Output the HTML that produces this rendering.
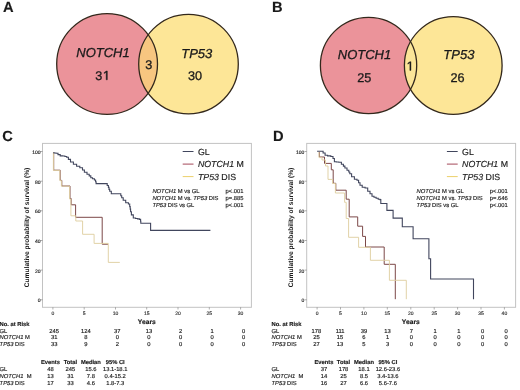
<!DOCTYPE html>
<html><head><meta charset="utf-8"><style>
html,body{margin:0;padding:0;background:#fff;width:520px;height:390px;overflow:hidden}
svg{display:block;will-change:transform;filter:blur(0.35px)}
text{font-family:"Liberation Sans", sans-serif;text-rendering:geometricPrecision}
</style></head><body>
<svg width="520" height="390" viewBox="0 0 520 390" font-family='"Liberation Sans", sans-serif'>
<rect width="520" height="390" fill="#fff"/>
<text x="2.9" y="11.6" font-size="14.7" font-weight="bold" font-style="normal" text-anchor="start" fill="#1a1a1a" stroke="#1a1a1a" stroke-width="0.15" >A</text>
<text x="271.9" y="12.2" font-size="14.7" font-weight="bold" font-style="normal" text-anchor="start" fill="#1a1a1a" stroke="#1a1a1a" stroke-width="0.15" >B</text>
<text x="2.3" y="140.6" font-size="14.7" font-weight="bold" font-style="normal" text-anchor="start" fill="#1a1a1a" stroke="#1a1a1a" stroke-width="0.15" >C</text>
<text x="273.1" y="140.5" font-size="14.7" font-weight="bold" font-style="normal" text-anchor="start" fill="#1a1a1a" stroke="#1a1a1a" stroke-width="0.15" >D</text>
<defs><clipPath id="ca"><circle cx="107.1" cy="64.0" r="50.4"/></clipPath></defs>
<circle cx="107.1" cy="64.0" r="50.4" fill="#eb939a"/>
<circle cx="188.5" cy="64.1" r="49.8" fill="#fde697"/>
<circle cx="188.5" cy="64.1" r="49.8" fill="#f7c680" clip-path="url(#ca)"/>
<circle cx="107.1" cy="64.0" r="50.4" fill="none" stroke="#33281c" stroke-width="1.3"/>
<circle cx="188.5" cy="64.1" r="49.8" fill="none" stroke="#33281c" stroke-width="1.3"/>
<text x="103.0" y="57.2" font-size="13.0" font-weight="normal" font-style="normal" text-anchor="middle" fill="#1a1a1a" stroke="#1a1a1a" stroke-width="0.3" ><tspan font-style="italic">NOTCH1</tspan></text>
<text x="95.3388" y="79.8" font-size="12.7" font-weight="normal" font-style="normal" text-anchor="start" fill="#1a1a1a" stroke="#1a1a1a" stroke-width="0.3" >3</text>
<path d="M106.19 79.80 L106.19 72.13 L104.22 73.54 L104.22 72.48 L106.29 71.06 L107.32 71.06 L107.32 79.80 Z" fill="#1a1a1a" stroke="#1a1a1a" stroke-width="0.45" stroke-linejoin="miter"/>
<text x="148.7" y="69.2" font-size="12.7" font-weight="normal" font-style="normal" text-anchor="middle" fill="#1a1a1a" stroke="#1a1a1a" stroke-width="0.3" >3</text>
<text x="196.8" y="57.6" font-size="13.0" font-weight="normal" font-style="normal" text-anchor="middle" fill="#1a1a1a" stroke="#1a1a1a" stroke-width="0.3" ><tspan font-style="italic">TP53</tspan></text>
<text x="195.0" y="79.6" font-size="12.7" font-weight="normal" font-style="normal" text-anchor="middle" fill="#1a1a1a" stroke="#1a1a1a" stroke-width="0.3" >30</text>
<defs><clipPath id="cb"><circle cx="368.55" cy="65.45" r="48.15"/></clipPath></defs>
<circle cx="368.55" cy="65.45" r="48.15" fill="#eb939a"/>
<circle cx="453.25" cy="65.45" r="48.85" fill="#fde697"/>
<circle cx="453.25" cy="65.45" r="48.85" fill="#fbe598" clip-path="url(#cb)"/>
<circle cx="368.55" cy="65.45" r="48.15" fill="none" stroke="#33281c" stroke-width="1.3"/>
<circle cx="453.25" cy="65.45" r="48.85" fill="none" stroke="#33281c" stroke-width="1.3"/>
<text x="364.5" y="59.2" font-size="13.0" font-weight="normal" font-style="normal" text-anchor="middle" fill="#1a1a1a" stroke="#1a1a1a" stroke-width="0.3" ><tspan font-style="italic">NOTCH1</tspan></text>
<text x="364.3" y="81.8" font-size="12.7" font-weight="normal" font-style="normal" text-anchor="middle" fill="#1a1a1a" stroke="#1a1a1a" stroke-width="0.3" >25</text>
<path d="M409.84 70.40 L409.84 62.73 L407.87 64.14 L407.87 63.08 L409.94 61.66 L410.97 61.66 L410.97 70.40 Z" fill="#1a1a1a" stroke="#1a1a1a" stroke-width="0.4" stroke-linejoin="miter"/>
<text x="458.9" y="59.3" font-size="13.0" font-weight="normal" font-style="normal" text-anchor="middle" fill="#1a1a1a" stroke="#1a1a1a" stroke-width="0.3" ><tspan font-style="italic">TP53</tspan></text>
<text x="457.5" y="81.5" font-size="12.7" font-weight="normal" font-style="normal" text-anchor="middle" fill="#1a1a1a" stroke="#1a1a1a" stroke-width="0.3" >26</text>
<rect x="42.5" y="143.4" width="208.9" height="163.9" fill="none" stroke="#c2c2c2" stroke-width="1"/>
<line x1="40.3" y1="151.5" x2="42.5" y2="151.5" stroke="#777" stroke-width="0.6"/>
<text x="40.6" y="154.1" font-size="5.0" font-weight="normal" font-style="normal" text-anchor="end" fill="#222" stroke="#222" stroke-width="0.15" >100</text>
<line x1="40.3" y1="181.2" x2="42.5" y2="181.2" stroke="#777" stroke-width="0.6"/>
<text x="40.6" y="183.8" font-size="5.0" font-weight="normal" font-style="normal" text-anchor="end" fill="#222" stroke="#222" stroke-width="0.15" >80</text>
<line x1="40.3" y1="210.8" x2="42.5" y2="210.8" stroke="#777" stroke-width="0.6"/>
<text x="40.6" y="213.4" font-size="5.0" font-weight="normal" font-style="normal" text-anchor="end" fill="#222" stroke="#222" stroke-width="0.15" >60</text>
<line x1="40.3" y1="240.5" x2="42.5" y2="240.5" stroke="#777" stroke-width="0.6"/>
<text x="40.6" y="243.1" font-size="5.0" font-weight="normal" font-style="normal" text-anchor="end" fill="#222" stroke="#222" stroke-width="0.15" >40</text>
<line x1="40.3" y1="270.1" x2="42.5" y2="270.1" stroke="#777" stroke-width="0.6"/>
<text x="40.6" y="272.7" font-size="5.0" font-weight="normal" font-style="normal" text-anchor="end" fill="#222" stroke="#222" stroke-width="0.15" >20</text>
<line x1="40.3" y1="299.8" x2="42.5" y2="299.8" stroke="#777" stroke-width="0.6"/>
<text x="40.6" y="302.4" font-size="5.0" font-weight="normal" font-style="normal" text-anchor="end" fill="#222" stroke="#222" stroke-width="0.15" >0</text>
<line x1="52.9" y1="307.3" x2="52.9" y2="309.5" stroke="#777" stroke-width="0.6"/>
<text x="52.9" y="314.6" font-size="5.0" font-weight="normal" font-style="normal" text-anchor="middle" fill="#333" stroke="#333" stroke-width="0.15" >0</text>
<line x1="84.2" y1="307.3" x2="84.2" y2="309.5" stroke="#777" stroke-width="0.6"/>
<text x="84.2" y="314.6" font-size="5.0" font-weight="normal" font-style="normal" text-anchor="middle" fill="#333" stroke="#333" stroke-width="0.15" >5</text>
<line x1="115.5" y1="307.3" x2="115.5" y2="309.5" stroke="#777" stroke-width="0.6"/>
<text x="115.5" y="314.6" font-size="5.0" font-weight="normal" font-style="normal" text-anchor="middle" fill="#333" stroke="#333" stroke-width="0.15" >10</text>
<line x1="146.7" y1="307.3" x2="146.7" y2="309.5" stroke="#777" stroke-width="0.6"/>
<text x="146.7" y="314.6" font-size="5.0" font-weight="normal" font-style="normal" text-anchor="middle" fill="#333" stroke="#333" stroke-width="0.15" >15</text>
<line x1="178.0" y1="307.3" x2="178.0" y2="309.5" stroke="#777" stroke-width="0.6"/>
<text x="178.0" y="314.6" font-size="5.0" font-weight="normal" font-style="normal" text-anchor="middle" fill="#333" stroke="#333" stroke-width="0.15" >20</text>
<line x1="209.3" y1="307.3" x2="209.3" y2="309.5" stroke="#777" stroke-width="0.6"/>
<text x="209.3" y="314.6" font-size="5.0" font-weight="normal" font-style="normal" text-anchor="middle" fill="#333" stroke="#333" stroke-width="0.15" >25</text>
<line x1="240.6" y1="307.3" x2="240.6" y2="309.5" stroke="#777" stroke-width="0.6"/>
<text x="240.6" y="314.6" font-size="5.0" font-weight="normal" font-style="normal" text-anchor="middle" fill="#333" stroke="#333" stroke-width="0.15" >30</text>
<text x="146.8" y="323.6" font-size="6.7" font-weight="bold" font-style="normal" text-anchor="middle" fill="#1a1a1a" stroke="#1a1a1a" stroke-width="0.15" >Years</text>
<text transform="translate(28.9,227.5) rotate(-90)" x="0" y="0" font-size="6.7" font-weight="bold" text-anchor="middle" fill="#1a1a1a">Cumulative probability of survival (%)</text>
<path d="M53.7 152.5 L53.7 170.2 L60.2 170.2 L60.2 180.4 L61.8 180.4 L61.8 186.0 L70.0 186.0 L70.0 198.5 L71.2 198.5 L71.2 204.8 L75.6 204.8 L75.6 217.3 L102.2 217.3 L102.2 244.2 L108.0 244.2" fill="none" stroke="#7c4848" stroke-width="1.0"/>
<path d="M53.4 152.5 L53.4 170.4 L59.9 170.4 L59.9 180.6 L61.4 180.6 L61.4 186.2 L69.6 186.2 L69.6 199.0 L70.9 199.0 L70.9 215.8 L75.8 215.8 L75.8 221.0 L82.6 221.0 L82.6 234.3 L94.1 234.3 L94.1 243.4 L108.3 243.4 L108.3 262.4 L119.8 262.4" fill="none" stroke="#dfd0a2" stroke-width="0.95"/>
<path d="M53.2 152.7 H54.2 V153.0 H56.0 V153.3 H57.0 H58.0 V154.6 H59.0 H60.2 V155.9 H61.5 H62.8 V156.0 H64.1 H64.9 V156.5 H65.7 H66.7 V157.2 H67.6 H68.4 V159.4 H69.2 H70.5 V162.0 H71.8 H73.4 V164.3 H75.0 H76.6 V166.2 H78.2 H79.8 V167.7 H81.5 H82.5 V170.0 H84.4 V172.3 H85.4 H87.0 V174.2 H88.5 H89.2 V175.9 H90.8 V177.7 H91.5 H92.5 V178.8 H94.4 V180.0 H95.4 H95.6 V181.8 H96.1 V183.6 H96.3 L106.2 183.6 H107.2 V185.5 H108.1 H108.4 V187.4 H109.0 V189.4 H109.7 V191.3 H110.0 H111.3 V193.8 H112.6 L120.3 193.8 H120.8 V195.8 H121.7 V197.7 H122.2 H123.2 V200.3 H124.1 H125.7 V202.8 H127.3 H128.4 V204.0 H129.5 H129.7 V206.6 H130.2 V209.1 H130.6 V211.7 H130.8 H131.4 V214.9 H132.0 H133.3 V218.0 H134.6 H135.6 V218.5 H137.5 V218.9 H139.4 V219.4 H140.4 H140.6 V221.3 H140.8 V223.2 H141.0 L150.6 223.2 L150.6 230.4 L210.4 230.4" fill="none" stroke="#41465d" stroke-width="1.1"/>
<line x1="182.7" y1="151.5" x2="193.5" y2="151.5" stroke="#41465d" stroke-width="1"/>
<text x="197.9" y="154.6" font-size="8.8" font-weight="normal" font-style="normal" text-anchor="start" fill="#1a1a1a" stroke="#1a1a1a" stroke-width="0.15" >GL</text>
<line x1="182.7" y1="164.1" x2="193.5" y2="164.1" stroke="#a4485a" stroke-width="1"/>
<text x="197.9" y="167.2" font-size="8.8" font-weight="normal" font-style="normal" text-anchor="start" fill="#1a1a1a" stroke="#1a1a1a" stroke-width="0.15" ><tspan font-style="italic">NOTCH1</tspan> M</text>
<line x1="182.7" y1="176.6" x2="193.5" y2="176.6" stroke="#ecd06a" stroke-width="1"/>
<text x="197.9" y="179.7" font-size="8.8" font-weight="normal" font-style="normal" text-anchor="start" fill="#1a1a1a" stroke="#1a1a1a" stroke-width="0.15" ><tspan font-style="italic">TP53</tspan> DIS</text>
<text x="152.4" y="192.6" font-size="5.8" font-weight="normal" font-style="normal" text-anchor="start" fill="#1a1a1a" stroke="#1a1a1a" stroke-width="0.15" ><tspan font-style="italic">NOTCH1</tspan> M vs GL</text>
<text x="225.6" y="192.6" font-size="5.8" font-weight="normal" font-style="normal" text-anchor="start" fill="#1a1a1a" stroke="#1a1a1a" stroke-width="0.15" >p&lt;.001</text>
<text x="152.4" y="199.8" font-size="5.8" font-weight="normal" font-style="normal" text-anchor="start" fill="#1a1a1a" stroke="#1a1a1a" stroke-width="0.15" ><tspan font-style="italic">NOTCH1</tspan> M vs. <tspan font-style="italic">TP53</tspan> DIS</text>
<text x="225.6" y="199.8" font-size="5.8" font-weight="normal" font-style="normal" text-anchor="start" fill="#1a1a1a" stroke="#1a1a1a" stroke-width="0.15" >p=.885</text>
<text x="152.4" y="206.9" font-size="5.8" font-weight="normal" font-style="normal" text-anchor="start" fill="#1a1a1a" stroke="#1a1a1a" stroke-width="0.15" ><tspan font-style="italic">TP53</tspan> DIS vs GL</text>
<text x="225.6" y="206.9" font-size="5.8" font-weight="normal" font-style="normal" text-anchor="start" fill="#1a1a1a" stroke="#1a1a1a" stroke-width="0.15" >p&lt;.001</text>
<text x="-0.4" y="325.6" font-size="5.8" font-weight="bold" font-style="normal" text-anchor="start" fill="#1a1a1a" stroke="#1a1a1a" stroke-width="0.15" >No. at Risk</text>
<text x="-0.4" y="332.5" font-size="5.8" font-weight="normal" font-style="normal" text-anchor="start" fill="#1a1a1a" stroke="#1a1a1a" stroke-width="0.15" >GL</text>
<text x="54.2" y="332.5" font-size="5.8" font-weight="normal" font-style="normal" text-anchor="middle" fill="#1a1a1a" stroke="#1a1a1a" stroke-width="0.15" >245</text>
<text x="85.8" y="332.5" font-size="5.8" font-weight="normal" font-style="normal" text-anchor="middle" fill="#1a1a1a" stroke="#1a1a1a" stroke-width="0.15" >124</text>
<text x="117.3" y="332.5" font-size="5.8" font-weight="normal" font-style="normal" text-anchor="middle" fill="#1a1a1a" stroke="#1a1a1a" stroke-width="0.15" >37</text>
<text x="148.9" y="332.5" font-size="5.8" font-weight="normal" font-style="normal" text-anchor="middle" fill="#1a1a1a" stroke="#1a1a1a" stroke-width="0.15" >13</text>
<text x="180.5" y="332.5" font-size="5.8" font-weight="normal" font-style="normal" text-anchor="middle" fill="#1a1a1a" stroke="#1a1a1a" stroke-width="0.15" >2</text>
<text x="212.1" y="332.5" font-size="5.8" font-weight="normal" font-style="normal" text-anchor="middle" fill="#1a1a1a" stroke="#1a1a1a" stroke-width="0.15" >1</text>
<text x="243.6" y="332.5" font-size="5.8" font-weight="normal" font-style="normal" text-anchor="middle" fill="#1a1a1a" stroke="#1a1a1a" stroke-width="0.15" >0</text>
<text x="-0.4" y="339.4" font-size="5.8" font-weight="normal" font-style="normal" text-anchor="start" fill="#1a1a1a" stroke="#1a1a1a" stroke-width="0.15" ><tspan font-style="italic">NOTCH1</tspan> M</text>
<text x="54.2" y="339.4" font-size="5.8" font-weight="normal" font-style="normal" text-anchor="middle" fill="#1a1a1a" stroke="#1a1a1a" stroke-width="0.15" >31</text>
<text x="85.8" y="339.4" font-size="5.8" font-weight="normal" font-style="normal" text-anchor="middle" fill="#1a1a1a" stroke="#1a1a1a" stroke-width="0.15" >8</text>
<text x="117.3" y="339.4" font-size="5.8" font-weight="normal" font-style="normal" text-anchor="middle" fill="#1a1a1a" stroke="#1a1a1a" stroke-width="0.15" >0</text>
<text x="148.9" y="339.4" font-size="5.8" font-weight="normal" font-style="normal" text-anchor="middle" fill="#1a1a1a" stroke="#1a1a1a" stroke-width="0.15" >0</text>
<text x="180.5" y="339.4" font-size="5.8" font-weight="normal" font-style="normal" text-anchor="middle" fill="#1a1a1a" stroke="#1a1a1a" stroke-width="0.15" >0</text>
<text x="212.1" y="339.4" font-size="5.8" font-weight="normal" font-style="normal" text-anchor="middle" fill="#1a1a1a" stroke="#1a1a1a" stroke-width="0.15" >0</text>
<text x="243.6" y="339.4" font-size="5.8" font-weight="normal" font-style="normal" text-anchor="middle" fill="#1a1a1a" stroke="#1a1a1a" stroke-width="0.15" >0</text>
<text x="-0.4" y="346.2" font-size="5.8" font-weight="normal" font-style="normal" text-anchor="start" fill="#1a1a1a" stroke="#1a1a1a" stroke-width="0.15" ><tspan font-style="italic">TP53</tspan> DIS</text>
<text x="54.2" y="346.2" font-size="5.8" font-weight="normal" font-style="normal" text-anchor="middle" fill="#1a1a1a" stroke="#1a1a1a" stroke-width="0.15" >33</text>
<text x="85.8" y="346.2" font-size="5.8" font-weight="normal" font-style="normal" text-anchor="middle" fill="#1a1a1a" stroke="#1a1a1a" stroke-width="0.15" >9</text>
<text x="117.3" y="346.2" font-size="5.8" font-weight="normal" font-style="normal" text-anchor="middle" fill="#1a1a1a" stroke="#1a1a1a" stroke-width="0.15" >2</text>
<text x="148.9" y="346.2" font-size="5.8" font-weight="normal" font-style="normal" text-anchor="middle" fill="#1a1a1a" stroke="#1a1a1a" stroke-width="0.15" >0</text>
<text x="180.5" y="346.2" font-size="5.8" font-weight="normal" font-style="normal" text-anchor="middle" fill="#1a1a1a" stroke="#1a1a1a" stroke-width="0.15" >0</text>
<text x="212.1" y="346.2" font-size="5.8" font-weight="normal" font-style="normal" text-anchor="middle" fill="#1a1a1a" stroke="#1a1a1a" stroke-width="0.15" >0</text>
<text x="243.6" y="346.2" font-size="5.8" font-weight="normal" font-style="normal" text-anchor="middle" fill="#1a1a1a" stroke="#1a1a1a" stroke-width="0.15" >0</text>
<text x="50.4" y="364.4" font-size="5.8" font-weight="bold" font-style="normal" text-anchor="middle" fill="#1a1a1a" stroke="#1a1a1a" stroke-width="0.15" >Events</text>
<text x="70.4" y="364.4" font-size="5.8" font-weight="bold" font-style="normal" text-anchor="middle" fill="#1a1a1a" stroke="#1a1a1a" stroke-width="0.15" >Total</text>
<text x="90.9" y="364.4" font-size="5.8" font-weight="bold" font-style="normal" text-anchor="middle" fill="#1a1a1a" stroke="#1a1a1a" stroke-width="0.15" >Median</text>
<text x="115.2" y="364.4" font-size="5.8" font-weight="bold" font-style="normal" text-anchor="middle" fill="#1a1a1a" stroke="#1a1a1a" stroke-width="0.15" >95% CI</text>
<text x="-0.4" y="371.3" font-size="5.8" font-weight="normal" font-style="normal" text-anchor="start" fill="#1a1a1a" stroke="#1a1a1a" stroke-width="0.15" >GL</text>
<text x="50.4" y="371.3" font-size="5.8" font-weight="normal" font-style="normal" text-anchor="middle" fill="#1a1a1a" stroke="#1a1a1a" stroke-width="0.15" >48</text>
<text x="70.4" y="371.3" font-size="5.8" font-weight="normal" font-style="normal" text-anchor="middle" fill="#1a1a1a" stroke="#1a1a1a" stroke-width="0.15" >245</text>
<text x="90.9" y="371.3" font-size="5.8" font-weight="normal" font-style="normal" text-anchor="middle" fill="#1a1a1a" stroke="#1a1a1a" stroke-width="0.15" >15.6</text>
<text x="115.2" y="371.3" font-size="5.8" font-weight="normal" font-style="normal" text-anchor="middle" fill="#1a1a1a" stroke="#1a1a1a" stroke-width="0.15" >13.1-18.1</text>
<text x="-0.4" y="378.2" font-size="5.8" font-weight="normal" font-style="normal" text-anchor="start" fill="#1a1a1a" stroke="#1a1a1a" stroke-width="0.15" ><tspan font-style="italic">NOTCH1</tspan>&#160; M</text>
<text x="50.4" y="378.2" font-size="5.8" font-weight="normal" font-style="normal" text-anchor="middle" fill="#1a1a1a" stroke="#1a1a1a" stroke-width="0.15" >13</text>
<text x="70.4" y="378.2" font-size="5.8" font-weight="normal" font-style="normal" text-anchor="middle" fill="#1a1a1a" stroke="#1a1a1a" stroke-width="0.15" >31</text>
<text x="90.9" y="378.2" font-size="5.8" font-weight="normal" font-style="normal" text-anchor="middle" fill="#1a1a1a" stroke="#1a1a1a" stroke-width="0.15" >7.8</text>
<text x="115.2" y="378.2" font-size="5.8" font-weight="normal" font-style="normal" text-anchor="middle" fill="#1a1a1a" stroke="#1a1a1a" stroke-width="0.15" >0.4-15.2</text>
<text x="-0.4" y="385.1" font-size="5.8" font-weight="normal" font-style="normal" text-anchor="start" fill="#1a1a1a" stroke="#1a1a1a" stroke-width="0.15" ><tspan font-style="italic">TP53</tspan> DIS</text>
<text x="50.4" y="385.1" font-size="5.8" font-weight="normal" font-style="normal" text-anchor="middle" fill="#1a1a1a" stroke="#1a1a1a" stroke-width="0.15" >17</text>
<text x="70.4" y="385.1" font-size="5.8" font-weight="normal" font-style="normal" text-anchor="middle" fill="#1a1a1a" stroke="#1a1a1a" stroke-width="0.15" >33</text>
<text x="90.9" y="385.1" font-size="5.8" font-weight="normal" font-style="normal" text-anchor="middle" fill="#1a1a1a" stroke="#1a1a1a" stroke-width="0.15" >4.6</text>
<text x="115.2" y="385.1" font-size="5.8" font-weight="normal" font-style="normal" text-anchor="middle" fill="#1a1a1a" stroke="#1a1a1a" stroke-width="0.15" >1.8-7.3</text>
<rect x="306.7" y="143.4" width="208.9" height="163.9" fill="none" stroke="#c2c2c2" stroke-width="1"/>
<line x1="304.5" y1="151.5" x2="306.7" y2="151.5" stroke="#777" stroke-width="0.6"/>
<text x="304.4" y="154.1" font-size="5.0" font-weight="normal" font-style="normal" text-anchor="end" fill="#222" stroke="#222" stroke-width="0.15" >100</text>
<line x1="304.5" y1="181.2" x2="306.7" y2="181.2" stroke="#777" stroke-width="0.6"/>
<text x="304.4" y="183.8" font-size="5.0" font-weight="normal" font-style="normal" text-anchor="end" fill="#222" stroke="#222" stroke-width="0.15" >80</text>
<line x1="304.5" y1="210.8" x2="306.7" y2="210.8" stroke="#777" stroke-width="0.6"/>
<text x="304.4" y="213.4" font-size="5.0" font-weight="normal" font-style="normal" text-anchor="end" fill="#222" stroke="#222" stroke-width="0.15" >60</text>
<line x1="304.5" y1="240.5" x2="306.7" y2="240.5" stroke="#777" stroke-width="0.6"/>
<text x="304.4" y="243.1" font-size="5.0" font-weight="normal" font-style="normal" text-anchor="end" fill="#222" stroke="#222" stroke-width="0.15" >40</text>
<line x1="304.5" y1="270.1" x2="306.7" y2="270.1" stroke="#777" stroke-width="0.6"/>
<text x="304.4" y="272.7" font-size="5.0" font-weight="normal" font-style="normal" text-anchor="end" fill="#222" stroke="#222" stroke-width="0.15" >20</text>
<line x1="304.5" y1="299.8" x2="306.7" y2="299.8" stroke="#777" stroke-width="0.6"/>
<text x="304.4" y="302.4" font-size="5.0" font-weight="normal" font-style="normal" text-anchor="end" fill="#222" stroke="#222" stroke-width="0.15" >0</text>
<line x1="317.1" y1="307.3" x2="317.1" y2="309.5" stroke="#777" stroke-width="0.6"/>
<text x="317.1" y="314.6" font-size="5.0" font-weight="normal" font-style="normal" text-anchor="middle" fill="#333" stroke="#333" stroke-width="0.15" >0</text>
<line x1="340.5" y1="307.3" x2="340.5" y2="309.5" stroke="#777" stroke-width="0.6"/>
<text x="340.5" y="314.6" font-size="5.0" font-weight="normal" font-style="normal" text-anchor="middle" fill="#333" stroke="#333" stroke-width="0.15" >5</text>
<line x1="363.9" y1="307.3" x2="363.9" y2="309.5" stroke="#777" stroke-width="0.6"/>
<text x="363.9" y="314.6" font-size="5.0" font-weight="normal" font-style="normal" text-anchor="middle" fill="#333" stroke="#333" stroke-width="0.15" >10</text>
<line x1="387.3" y1="307.3" x2="387.3" y2="309.5" stroke="#777" stroke-width="0.6"/>
<text x="387.3" y="314.6" font-size="5.0" font-weight="normal" font-style="normal" text-anchor="middle" fill="#333" stroke="#333" stroke-width="0.15" >15</text>
<line x1="410.8" y1="307.3" x2="410.8" y2="309.5" stroke="#777" stroke-width="0.6"/>
<text x="410.8" y="314.6" font-size="5.0" font-weight="normal" font-style="normal" text-anchor="middle" fill="#333" stroke="#333" stroke-width="0.15" >20</text>
<line x1="434.2" y1="307.3" x2="434.2" y2="309.5" stroke="#777" stroke-width="0.6"/>
<text x="434.2" y="314.6" font-size="5.0" font-weight="normal" font-style="normal" text-anchor="middle" fill="#333" stroke="#333" stroke-width="0.15" >25</text>
<line x1="457.6" y1="307.3" x2="457.6" y2="309.5" stroke="#777" stroke-width="0.6"/>
<text x="457.6" y="314.6" font-size="5.0" font-weight="normal" font-style="normal" text-anchor="middle" fill="#333" stroke="#333" stroke-width="0.15" >30</text>
<line x1="481.0" y1="307.3" x2="481.0" y2="309.5" stroke="#777" stroke-width="0.6"/>
<text x="481.0" y="314.6" font-size="5.0" font-weight="normal" font-style="normal" text-anchor="middle" fill="#333" stroke="#333" stroke-width="0.15" >35</text>
<line x1="504.4" y1="307.3" x2="504.4" y2="309.5" stroke="#777" stroke-width="0.6"/>
<text x="504.4" y="314.6" font-size="5.0" font-weight="normal" font-style="normal" text-anchor="middle" fill="#333" stroke="#333" stroke-width="0.15" >40</text>
<text x="410.8" y="323.6" font-size="6.7" font-weight="bold" font-style="normal" text-anchor="middle" fill="#1a1a1a" stroke="#1a1a1a" stroke-width="0.15" >Years</text>
<text transform="translate(292.5,227.5) rotate(-90)" x="0" y="0" font-size="6.7" font-weight="bold" text-anchor="middle" fill="#1a1a1a">Cumulative probability of survival (%)</text>
<path d="M319.4 152.0 L319.4 157.0 L324.5 157.0 L324.5 163.4 L331.3 163.4 L331.3 169.8 L333.2 169.8 L333.2 183.3 L335.8 183.3 L335.8 190.2 L346.2 190.2 L346.2 199.2 L349.2 199.2 L349.2 216.9 L357.7 216.9 L357.7 226.2 L362.6 226.2 L362.6 236.4 L365.5 236.4 L365.5 247.0 L384.2 247.0 L384.2 264.3 L395.3 264.3 L395.3 299.2" fill="none" stroke="#7c4848" stroke-width="1.0"/>
<path d="M319.0 152.0 L319.0 157.6 L322.0 157.6 L322.0 160.0 L325.5 160.0 L325.5 166.0 L328.0 166.0 L328.0 179.4 L332.5 179.4 L332.5 183.5 L335.4 183.5 L335.4 193.0 L344.6 193.0 L344.6 202.3 L346.2 202.3 L346.2 218.5 L348.6 218.5 L348.6 237.3 L358.6 237.3 L358.6 247.3 L370.4 247.3 L370.4 260.3 L389.4 260.3 L389.4 280.3 L406.3 280.3 L406.3 299.2" fill="none" stroke="#dfd0a2" stroke-width="0.95"/>
<path d="M317.1 151.3 L322.2 151.3 H323.1 V153.0 H324.1 H325.1 V155.3 H326.0 H327.6 V155.9 H329.2 H330.8 V156.5 H332.4 H333.0 V158.5 H333.7 H334.4 V161.7 H335.0 H336.3 V162.0 H338.8 V162.3 H340.1 H341.4 V164.2 H342.7 H343.4 V166.1 H344.9 V168.0 H345.7 H347.0 V170.3 H348.3 H348.8 V172.0 H349.8 V173.7 H350.3 H351.6 V176.8 H352.9 H354.4 V179.3 H356.0 H357.0 V180.3 H358.0 H358.6 V182.8 H360.0 V185.2 H360.6 H362.2 V187.3 H363.8 H365.1 V188.0 H366.4 H367.7 V191.2 H369.0 H370.0 V193.7 H372.0 V196.2 H373.0 H374.0 V197.2 H376.1 V198.2 H378.2 V199.2 H379.2 H380.0 V199.6 H380.8 L380.8 203.5 L386.9 203.5 L386.9 210.4 L393.1 210.4 L393.1 218.1 L402.3 218.1 L402.3 226.8 L413.1 226.8 L413.1 238.8 L428.9 238.8 L428.9 258.8 L430.6 258.8 L430.6 279.0 L473.5 279.0 L473.5 299.2" fill="none" stroke="#41465d" stroke-width="1.1"/>
<line x1="446.9" y1="151.5" x2="457.7" y2="151.5" stroke="#41465d" stroke-width="1"/>
<text x="462.1" y="154.6" font-size="8.8" font-weight="normal" font-style="normal" text-anchor="start" fill="#1a1a1a" stroke="#1a1a1a" stroke-width="0.15" >GL</text>
<line x1="446.9" y1="164.1" x2="457.7" y2="164.1" stroke="#a4485a" stroke-width="1"/>
<text x="462.1" y="167.2" font-size="8.8" font-weight="normal" font-style="normal" text-anchor="start" fill="#1a1a1a" stroke="#1a1a1a" stroke-width="0.15" ><tspan font-style="italic">NOTCH1</tspan> M</text>
<line x1="446.9" y1="176.6" x2="457.7" y2="176.6" stroke="#ecd06a" stroke-width="1"/>
<text x="462.1" y="179.7" font-size="8.8" font-weight="normal" font-style="normal" text-anchor="start" fill="#1a1a1a" stroke="#1a1a1a" stroke-width="0.15" ><tspan font-style="italic">TP53</tspan> DIS</text>
<text x="416.6" y="192.6" font-size="5.8" font-weight="normal" font-style="normal" text-anchor="start" fill="#1a1a1a" stroke="#1a1a1a" stroke-width="0.15" ><tspan font-style="italic">NOTCH1</tspan> M vs GL</text>
<text x="489.8" y="192.6" font-size="5.8" font-weight="normal" font-style="normal" text-anchor="start" fill="#1a1a1a" stroke="#1a1a1a" stroke-width="0.15" >p&lt;.001</text>
<text x="416.6" y="199.8" font-size="5.8" font-weight="normal" font-style="normal" text-anchor="start" fill="#1a1a1a" stroke="#1a1a1a" stroke-width="0.15" ><tspan font-style="italic">NOTCH1</tspan> M vs. <tspan font-style="italic">TP53</tspan> DIS</text>
<text x="489.8" y="199.8" font-size="5.8" font-weight="normal" font-style="normal" text-anchor="start" fill="#1a1a1a" stroke="#1a1a1a" stroke-width="0.15" >p=.646</text>
<text x="416.6" y="206.9" font-size="5.8" font-weight="normal" font-style="normal" text-anchor="start" fill="#1a1a1a" stroke="#1a1a1a" stroke-width="0.15" ><tspan font-style="italic">TP53</tspan> DIS vs GL</text>
<text x="489.8" y="206.9" font-size="5.8" font-weight="normal" font-style="normal" text-anchor="start" fill="#1a1a1a" stroke="#1a1a1a" stroke-width="0.15" >p&lt;.001</text>
<text x="271.5" y="325.6" font-size="5.8" font-weight="bold" font-style="normal" text-anchor="start" fill="#1a1a1a" stroke="#1a1a1a" stroke-width="0.15" >No. at Risk</text>
<text x="271.5" y="332.5" font-size="5.8" font-weight="normal" font-style="normal" text-anchor="start" fill="#1a1a1a" stroke="#1a1a1a" stroke-width="0.15" >GL</text>
<text x="316.4" y="332.5" font-size="5.8" font-weight="normal" font-style="normal" text-anchor="middle" fill="#1a1a1a" stroke="#1a1a1a" stroke-width="0.15" >178</text>
<text x="340.1" y="332.5" font-size="5.8" font-weight="normal" font-style="normal" text-anchor="middle" fill="#1a1a1a" stroke="#1a1a1a" stroke-width="0.15" >111</text>
<text x="363.9" y="332.5" font-size="5.8" font-weight="normal" font-style="normal" text-anchor="middle" fill="#1a1a1a" stroke="#1a1a1a" stroke-width="0.15" >39</text>
<text x="387.6" y="332.5" font-size="5.8" font-weight="normal" font-style="normal" text-anchor="middle" fill="#1a1a1a" stroke="#1a1a1a" stroke-width="0.15" >13</text>
<text x="411.3" y="332.5" font-size="5.8" font-weight="normal" font-style="normal" text-anchor="middle" fill="#1a1a1a" stroke="#1a1a1a" stroke-width="0.15" >7</text>
<text x="435.0" y="332.5" font-size="5.8" font-weight="normal" font-style="normal" text-anchor="middle" fill="#1a1a1a" stroke="#1a1a1a" stroke-width="0.15" >1</text>
<text x="458.8" y="332.5" font-size="5.8" font-weight="normal" font-style="normal" text-anchor="middle" fill="#1a1a1a" stroke="#1a1a1a" stroke-width="0.15" >1</text>
<text x="482.5" y="332.5" font-size="5.8" font-weight="normal" font-style="normal" text-anchor="middle" fill="#1a1a1a" stroke="#1a1a1a" stroke-width="0.15" >0</text>
<text x="506.2" y="332.5" font-size="5.8" font-weight="normal" font-style="normal" text-anchor="middle" fill="#1a1a1a" stroke="#1a1a1a" stroke-width="0.15" >0</text>
<text x="271.5" y="339.4" font-size="5.8" font-weight="normal" font-style="normal" text-anchor="start" fill="#1a1a1a" stroke="#1a1a1a" stroke-width="0.15" ><tspan font-style="italic">NOTCH1</tspan> M</text>
<text x="316.4" y="339.4" font-size="5.8" font-weight="normal" font-style="normal" text-anchor="middle" fill="#1a1a1a" stroke="#1a1a1a" stroke-width="0.15" >25</text>
<text x="340.1" y="339.4" font-size="5.8" font-weight="normal" font-style="normal" text-anchor="middle" fill="#1a1a1a" stroke="#1a1a1a" stroke-width="0.15" >15</text>
<text x="363.9" y="339.4" font-size="5.8" font-weight="normal" font-style="normal" text-anchor="middle" fill="#1a1a1a" stroke="#1a1a1a" stroke-width="0.15" >6</text>
<text x="387.6" y="339.4" font-size="5.8" font-weight="normal" font-style="normal" text-anchor="middle" fill="#1a1a1a" stroke="#1a1a1a" stroke-width="0.15" >1</text>
<text x="411.3" y="339.4" font-size="5.8" font-weight="normal" font-style="normal" text-anchor="middle" fill="#1a1a1a" stroke="#1a1a1a" stroke-width="0.15" >0</text>
<text x="435.0" y="339.4" font-size="5.8" font-weight="normal" font-style="normal" text-anchor="middle" fill="#1a1a1a" stroke="#1a1a1a" stroke-width="0.15" >0</text>
<text x="458.8" y="339.4" font-size="5.8" font-weight="normal" font-style="normal" text-anchor="middle" fill="#1a1a1a" stroke="#1a1a1a" stroke-width="0.15" >0</text>
<text x="482.5" y="339.4" font-size="5.8" font-weight="normal" font-style="normal" text-anchor="middle" fill="#1a1a1a" stroke="#1a1a1a" stroke-width="0.15" >0</text>
<text x="506.2" y="339.4" font-size="5.8" font-weight="normal" font-style="normal" text-anchor="middle" fill="#1a1a1a" stroke="#1a1a1a" stroke-width="0.15" >0</text>
<text x="271.5" y="346.2" font-size="5.8" font-weight="normal" font-style="normal" text-anchor="start" fill="#1a1a1a" stroke="#1a1a1a" stroke-width="0.15" ><tspan font-style="italic">TP53</tspan> DIS</text>
<text x="316.4" y="346.2" font-size="5.8" font-weight="normal" font-style="normal" text-anchor="middle" fill="#1a1a1a" stroke="#1a1a1a" stroke-width="0.15" >27</text>
<text x="340.1" y="346.2" font-size="5.8" font-weight="normal" font-style="normal" text-anchor="middle" fill="#1a1a1a" stroke="#1a1a1a" stroke-width="0.15" >13</text>
<text x="363.9" y="346.2" font-size="5.8" font-weight="normal" font-style="normal" text-anchor="middle" fill="#1a1a1a" stroke="#1a1a1a" stroke-width="0.15" >5</text>
<text x="387.6" y="346.2" font-size="5.8" font-weight="normal" font-style="normal" text-anchor="middle" fill="#1a1a1a" stroke="#1a1a1a" stroke-width="0.15" >3</text>
<text x="411.3" y="346.2" font-size="5.8" font-weight="normal" font-style="normal" text-anchor="middle" fill="#1a1a1a" stroke="#1a1a1a" stroke-width="0.15" >0</text>
<text x="435.0" y="346.2" font-size="5.8" font-weight="normal" font-style="normal" text-anchor="middle" fill="#1a1a1a" stroke="#1a1a1a" stroke-width="0.15" >0</text>
<text x="458.8" y="346.2" font-size="5.8" font-weight="normal" font-style="normal" text-anchor="middle" fill="#1a1a1a" stroke="#1a1a1a" stroke-width="0.15" >0</text>
<text x="482.5" y="346.2" font-size="5.8" font-weight="normal" font-style="normal" text-anchor="middle" fill="#1a1a1a" stroke="#1a1a1a" stroke-width="0.15" >0</text>
<text x="506.2" y="346.2" font-size="5.8" font-weight="normal" font-style="normal" text-anchor="middle" fill="#1a1a1a" stroke="#1a1a1a" stroke-width="0.15" >0</text>
<text x="323.9" y="364.4" font-size="5.8" font-weight="bold" font-style="normal" text-anchor="middle" fill="#1a1a1a" stroke="#1a1a1a" stroke-width="0.15" >Events</text>
<text x="343.5" y="364.4" font-size="5.8" font-weight="bold" font-style="normal" text-anchor="middle" fill="#1a1a1a" stroke="#1a1a1a" stroke-width="0.15" >Total</text>
<text x="364.0" y="364.4" font-size="5.8" font-weight="bold" font-style="normal" text-anchor="middle" fill="#1a1a1a" stroke="#1a1a1a" stroke-width="0.15" >Median</text>
<text x="387.9" y="364.4" font-size="5.8" font-weight="bold" font-style="normal" text-anchor="middle" fill="#1a1a1a" stroke="#1a1a1a" stroke-width="0.15" >95% CI</text>
<text x="271.5" y="371.3" font-size="5.8" font-weight="normal" font-style="normal" text-anchor="start" fill="#1a1a1a" stroke="#1a1a1a" stroke-width="0.15" >GL</text>
<text x="323.9" y="371.3" font-size="5.8" font-weight="normal" font-style="normal" text-anchor="middle" fill="#1a1a1a" stroke="#1a1a1a" stroke-width="0.15" >37</text>
<text x="343.5" y="371.3" font-size="5.8" font-weight="normal" font-style="normal" text-anchor="middle" fill="#1a1a1a" stroke="#1a1a1a" stroke-width="0.15" >178</text>
<text x="364.0" y="371.3" font-size="5.8" font-weight="normal" font-style="normal" text-anchor="middle" fill="#1a1a1a" stroke="#1a1a1a" stroke-width="0.15" >18.1</text>
<text x="387.9" y="371.3" font-size="5.8" font-weight="normal" font-style="normal" text-anchor="middle" fill="#1a1a1a" stroke="#1a1a1a" stroke-width="0.15" >12.6-23.6</text>
<text x="271.5" y="378.2" font-size="5.8" font-weight="normal" font-style="normal" text-anchor="start" fill="#1a1a1a" stroke="#1a1a1a" stroke-width="0.15" ><tspan font-style="italic">NOTCH1</tspan>&#160; M</text>
<text x="323.9" y="378.2" font-size="5.8" font-weight="normal" font-style="normal" text-anchor="middle" fill="#1a1a1a" stroke="#1a1a1a" stroke-width="0.15" >14</text>
<text x="343.5" y="378.2" font-size="5.8" font-weight="normal" font-style="normal" text-anchor="middle" fill="#1a1a1a" stroke="#1a1a1a" stroke-width="0.15" >25</text>
<text x="364.0" y="378.2" font-size="5.8" font-weight="normal" font-style="normal" text-anchor="middle" fill="#1a1a1a" stroke="#1a1a1a" stroke-width="0.15" >8.5</text>
<text x="387.9" y="378.2" font-size="5.8" font-weight="normal" font-style="normal" text-anchor="middle" fill="#1a1a1a" stroke="#1a1a1a" stroke-width="0.15" >3.4-13.6</text>
<text x="271.5" y="385.1" font-size="5.8" font-weight="normal" font-style="normal" text-anchor="start" fill="#1a1a1a" stroke="#1a1a1a" stroke-width="0.15" ><tspan font-style="italic">TP53</tspan> DIS</text>
<text x="323.9" y="385.1" font-size="5.8" font-weight="normal" font-style="normal" text-anchor="middle" fill="#1a1a1a" stroke="#1a1a1a" stroke-width="0.15" >16</text>
<text x="343.5" y="385.1" font-size="5.8" font-weight="normal" font-style="normal" text-anchor="middle" fill="#1a1a1a" stroke="#1a1a1a" stroke-width="0.15" >27</text>
<text x="364.0" y="385.1" font-size="5.8" font-weight="normal" font-style="normal" text-anchor="middle" fill="#1a1a1a" stroke="#1a1a1a" stroke-width="0.15" >6.6</text>
<text x="387.9" y="385.1" font-size="5.8" font-weight="normal" font-style="normal" text-anchor="middle" fill="#1a1a1a" stroke="#1a1a1a" stroke-width="0.15" >5.6-7.6</text>
</svg>
</body></html>
